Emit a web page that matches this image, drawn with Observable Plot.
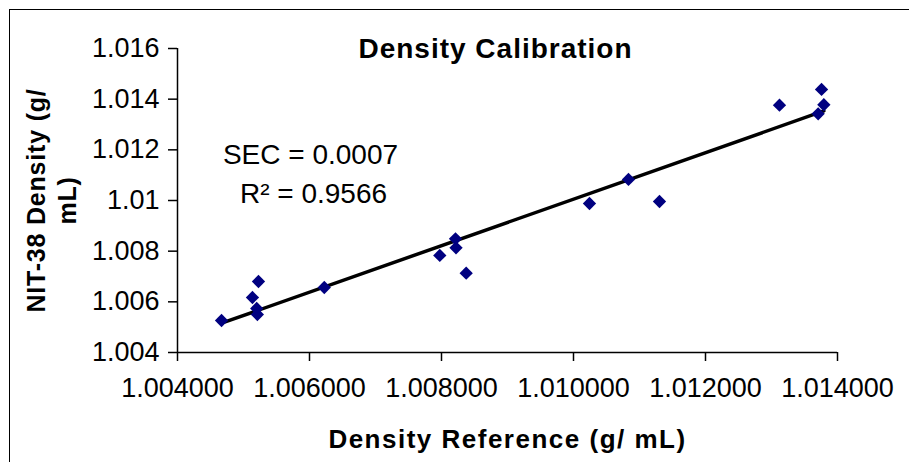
<!DOCTYPE html>
<html>
<head>
<meta charset="utf-8">
<script src="https://cdn.jsdelivr.net/npm/d3@7"></script>
<script src="https://cdn.jsdelivr.net/npm/@observablehq/plot@0.6"></script>
<style>
  html, body { margin: 0; padding: 0; background: #fff; }
  #chart { position: relative; width: 909px; height: 462px; overflow: hidden; }
  #border { position: absolute; left: 9px; top: 9px; width: 1000px; height: 1000px; border: 1.5px solid #000; box-sizing: border-box; pointer-events: none; }
</style>
</head>
<body>
<div id="chart"><div id="border"></div></div>
<script>
const referenceDensity = [1.004667, 1.005136, 1.005227, 1.005200, 1.005210, 1.006224, 1.007974, 1.008212, 1.008220, 1.008374, 1.010242, 1.010833, 1.011303, 1.013121, 1.013758, 1.013793, 1.013707];
const nit38Density    = [1.005263, 1.006171, 1.006803, 1.005737, 1.005500, 1.006566, 1.007830, 1.008488, 1.008133, 1.007130, 1.009882, 1.010830, 1.009961, 1.013763, 1.014383, 1.013779, 1.013423];
const xTicks = [1.004, 1.006, 1.008, 1.010, 1.012, 1.014];
const yTicks = [1.004, 1.006, 1.008, 1.010, 1.012, 1.014, 1.016];
const titleText = "Density Calibration";
const xLabel = "Density Reference (g/ mL)";
const yLabel = "NIT-38 Density (g/\nmL)";
const statsLines = ["SEC = 0.0007", "R\u00B2 = 0.9566"];

const data = referenceDensity.map((x, i) => ({x, y: nit38Density[i]}));
const font = "'Liberation Sans', Arial, sans-serif";
const yFmt = d => d3.format(".3~f")(d);

const plot = Plot.plot({
  width: 909,
  height: 462,
  marginLeft: 177,
  marginRight: 72,
  marginTop: 48,
  marginBottom: 110,
  style: {fontFamily: font, fontSize: "27px", color: "#000", background: "transparent", overflow: "visible"},
  x: {domain: [1.004, 1.014], label: null},
  y: {domain: [1.004, 1.016], label: null},
  marks: [
    Plot.axisX({ticks: xTicks, tickFormat: d3.format(".6f"), tickSize: 9, tickPadding: 16, fontSize: 27, stroke: "#000", strokeWidth: 1.5, label: null}),
    Plot.axisY({ticks: yTicks, tickFormat: yFmt, tickSize: 9, tickPadding: 9, fontSize: 27, stroke: "#000", strokeWidth: 1.5, label: null}),
    Plot.ruleX([1.004], {stroke: "#000", strokeWidth: 1.5}),
    Plot.ruleY([1.004], {stroke: "#000", strokeWidth: 1.5}),
    Plot.linearRegressionY(data, {x: "x", y: "y", stroke: "#000", strokeWidth: 3.5, ci: 0}),
    Plot.dot(data, {x: "x", y: "y", symbol: "square", r: 5.3, rotate: 45, fill: "#000080", stroke: "none"}),
    Plot.text([titleText], {text: d => d, frameAnchor: "top", dx: -12, dy: 9, fontSize: 28, fontWeight: "bold", lineAnchor: "bottom"}),
    Plot.text([statsLines[0]], {text: d => d, frameAnchor: "top-left", dx: 133, dy: 115, fontSize: 28, textAnchor: "middle", lineAnchor: "bottom"}),
    Plot.text([statsLines[1]], {text: d => d, frameAnchor: "top-left", dx: 136, dy: 154, fontSize: 28, textAnchor: "middle", lineAnchor: "bottom"}),
    Plot.text([yLabel], {text: d => d, frameAnchor: "left", dx: -127, rotate: -90, fontSize: 25, fontWeight: "bold", lineHeight: 1.24, textAnchor: "middle", lineAnchor: "middle"}),
    Plot.text([xLabel], {text: d => d, frameAnchor: "bottom", dy: 95, fontSize: 26, fontWeight: "bold", lineAnchor: "bottom"})
  ]
});
// Excel-like loose letter spacing on the bold labels
d3.select(plot).selectAll("text").each(function() {
  const t = this.textContent;
  if (t.startsWith("Density Calibration")) this.setAttribute("letter-spacing", "1");
  if (t.startsWith("Density Reference")) this.setAttribute("letter-spacing", "1.5");
  if (t.startsWith("NIT-38") || t.startsWith("mL)")) this.setAttribute("letter-spacing", "0.8");
});
document.getElementById("chart").prepend(plot);
</script>
</body>
</html>
